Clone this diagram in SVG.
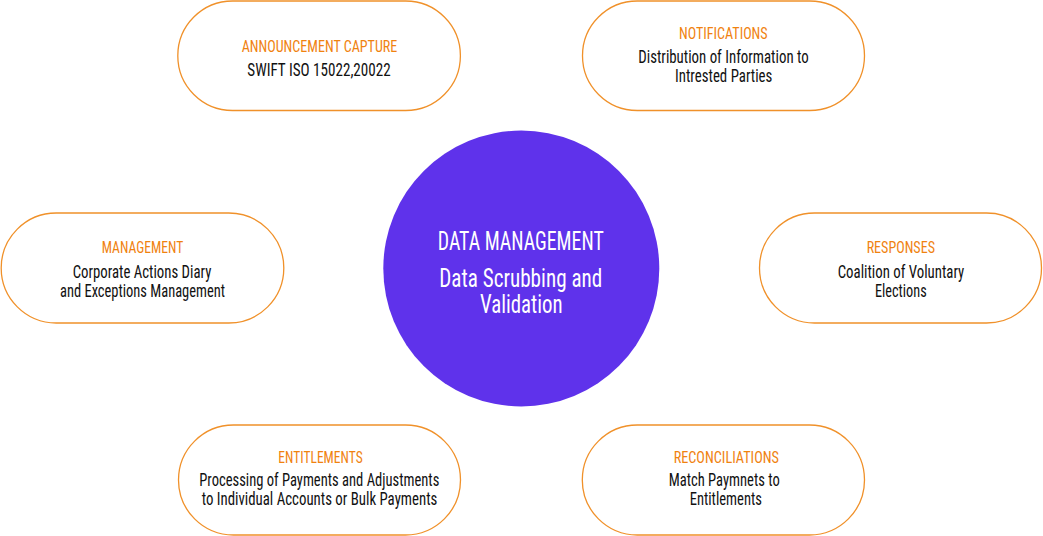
<svg xmlns="http://www.w3.org/2000/svg" width="1043" height="536" viewBox="0 0 1043 536">
<style>
.pill{fill:#ffffff;stroke:#F0912A;stroke-width:1.3}
.t{font-family:"Roboto Condensed",Roboto,"DejaVu Sans",sans-serif;text-anchor:middle;font-weight:400}
.title{fill:#F0820F;font-size:17px}
.body{fill:#111111;font-size:18px}
.ctr{fill:#ffffff;font-size:25px}
</style>
<rect width="1043" height="536" fill="#ffffff"/>
<g id="connectors"></g>
<g id="center">
<circle cx="521.3" cy="268.5" r="138" fill="#5F32EB"/>
<text class="t ctr" x="520.8" y="250" textLength="166" lengthAdjust="spacingAndGlyphs">DATA MANAGEMENT</text>
<text class="t ctr" x="520.8" y="286.7" textLength="163" lengthAdjust="spacingAndGlyphs">Data Scrubbing and</text>
<text class="t ctr" x="521.3" y="313.3" textLength="82.7" lengthAdjust="spacingAndGlyphs">Validation</text>
</g>
<g id="announcement">
<rect class="pill" x="177.8" y="1" width="282.6" height="109.5" rx="54.75"/>
<text class="t title" x="319.5" y="51.7" textLength="155.6" lengthAdjust="spacingAndGlyphs">ANNOUNCEMENT CAPTURE</text>
<text class="t body" x="319" y="75.7" textLength="143.4" lengthAdjust="spacingAndGlyphs">SWIFT ISO 15022,20022</text>
</g>
<g id="notifications">
<rect class="pill" x="582.5" y="1" width="282" height="109.5" rx="54.75"/>
<text class="t title" x="723.3" y="39" textLength="88.7" lengthAdjust="spacingAndGlyphs">NOTIFICATIONS</text>
<text class="t body" x="723.5" y="63.3" textLength="170.4" lengthAdjust="spacingAndGlyphs">Distribution of Information to</text>
<text class="t body" x="723.7" y="82.3" textLength="97.3" lengthAdjust="spacingAndGlyphs">Intrested Parties</text>
</g>
<g id="management">
<rect class="pill" x="1.2" y="213" width="282.6" height="110" rx="55"/>
<text class="t title" x="142.5" y="253" textLength="81.6" lengthAdjust="spacingAndGlyphs">MANAGEMENT</text>
<text class="t body" x="142" y="278" textLength="138.6" lengthAdjust="spacingAndGlyphs">Corporate Actions Diary</text>
<text class="t body" x="142.5" y="297.3" textLength="165" lengthAdjust="spacingAndGlyphs">and Exceptions Management</text>
</g>
<g id="responses">
<rect class="pill" x="759.5" y="213" width="282" height="110" rx="55"/>
<text class="t title" x="900.8" y="253" textLength="68.3" lengthAdjust="spacingAndGlyphs">RESPONSES</text>
<text class="t body" x="901" y="278" textLength="126.6" lengthAdjust="spacingAndGlyphs">Coalition of Voluntary</text>
<text class="t body" x="900.8" y="297.3" textLength="51.7" lengthAdjust="spacingAndGlyphs">Elections</text>
</g>
<g id="entitlements">
<rect class="pill" x="178.5" y="425" width="282" height="110" rx="55"/>
<text class="t title" x="320.5" y="463.3" textLength="84.4" lengthAdjust="spacingAndGlyphs">ENTITLEMENTS</text>
<text class="t body" x="319.3" y="486" textLength="240" lengthAdjust="spacingAndGlyphs">Processing of Payments and Adjustments</text>
<text class="t body" x="319.5" y="505.3" textLength="235.6" lengthAdjust="spacingAndGlyphs">to Individual Accounts or Bulk Payments</text>
</g>
<g id="reconciliations">
<rect class="pill" x="582.3" y="425" width="282.2" height="110" rx="55"/>
<text class="t title" x="726.3" y="463.3" textLength="105.3" lengthAdjust="spacingAndGlyphs">RECONCILIATIONS</text>
<text class="t body" x="724.2" y="486" textLength="111" lengthAdjust="spacingAndGlyphs">Match Paymnets to</text>
<text class="t body" x="725.8" y="505.3" textLength="72.3" lengthAdjust="spacingAndGlyphs">Entitlements</text>
</g>
</svg>
